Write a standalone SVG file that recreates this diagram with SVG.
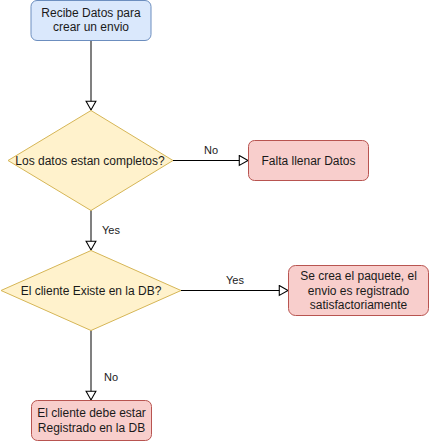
<svg xmlns="http://www.w3.org/2000/svg" width="429" height="441" viewBox="0 0 429 441">
<style>
text{font-family:"Liberation Sans",Arial,sans-serif;font-size:12px;fill:#1a1a1a;text-anchor:middle}
.lbl{font-size:11px}
.blue{fill:#dae8fc;stroke:#6c8ebf;stroke-width:1}
.yel{fill:#fff2cc;stroke:#d6b656;stroke-width:1}
.red{fill:#f8cecc;stroke:#b85450;stroke-width:1}
.v{stroke:#808080;stroke-width:2;fill:none}
.h{stroke:#000;stroke-width:1;fill:none}
</style>
<defs>
<marker id="arr" markerUnits="userSpaceOnUse" markerWidth="12" markerHeight="12" refX="8" refY="4.5" orient="auto" viewBox="-1 -1 11 11">
<path d="M0,0 L8,4.5 L0,9 Z" fill="#fff" stroke="#000" stroke-width="1"/>
</marker>
</defs>
<g id="connectors">
<path class="v" d="M91,41 L91,110" marker-end="url(#arr)"/>
<path class="h" d="M173,160.5 L248,160.5" marker-end="url(#arr)"/>
<path class="v" d="M91,210 L91,250" marker-end="url(#arr)"/>
<path class="h" d="M181,290.5 L288,290.5" marker-end="url(#arr)"/>
<path class="v" d="M91,330 L91,400" marker-end="url(#arr)"/>
<text class="lbl" x="211" y="154">No</text>
<text class="lbl" x="111" y="234">Yes</text>
<text class="lbl" x="235" y="284">Yes</text>
<text class="lbl" x="111" y="381">No</text>
</g>
<g id="start">
<rect class="blue" x="31" y="0.5" width="120" height="40" rx="6"/>
<text x="91" y="17">Recibe Datos para</text>
<text x="91" y="31">crear un envio</text>
</g>
<g id="decision1">
<polygon class="yel" points="91,110.5 173,160.5 91,210.5 8,160.5"/>
<text x="90" y="164.5">Los datos estan completos?</text>
</g>
<g id="falta">
<rect class="red" x="248.5" y="140.5" width="120" height="40" rx="6"/>
<text x="308.5" y="164.5">Falta llenar Datos</text>
</g>
<g id="decision2">
<polygon class="yel" points="91,250.5 181,290.5 91,330.5 1,290.5"/>
<text x="91" y="294.5">El cliente Existe en la DB?</text>
</g>
<g id="creado">
<rect class="red" x="288.5" y="265.5" width="140" height="50" rx="7"/>
<text x="358.5" y="280">Se crea el paquete, el</text>
<text x="358.5" y="294.5">envio es registrado</text>
<text x="358.5" y="309">satisfactoriamente</text>
</g>
<g id="registrar">
<rect class="red" x="31.5" y="400.5" width="120" height="40" rx="6"/>
<text x="91.5" y="417">El cliente debe estar</text>
<text x="91.5" y="431.5">Registrado en la DB</text>
</g>
</svg>
